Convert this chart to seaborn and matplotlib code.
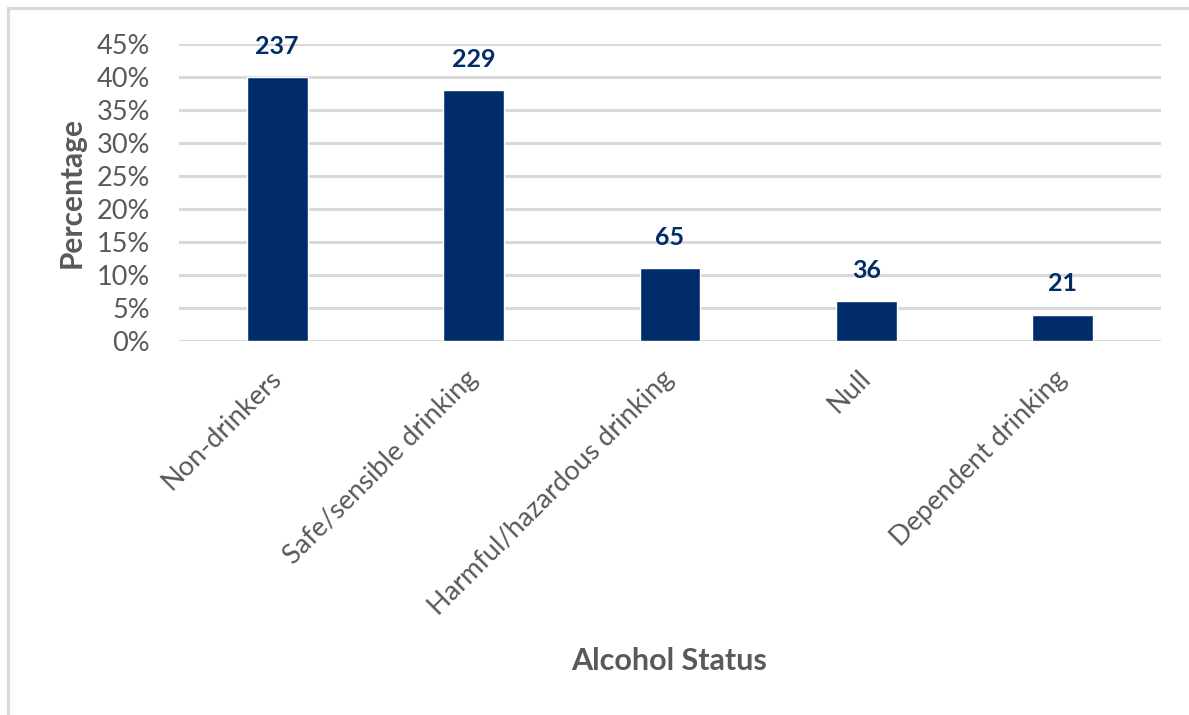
import matplotlib
matplotlib.use("Agg")
import matplotlib.pyplot as plt
import seaborn as sns
import pandas as pd
from matplotlib.patches import Rectangle
from matplotlib.ticker import PercentFormatter, MultipleLocator

categories = ["Non-drinkers", "Safe/sensible drinking", "Harmful/hazardous drinking",
              "Null", "Dependent drinking"]
percentages = [40, 38, 11, 6, 4]
counts = [237, 229, 65, 36, 21]

sns.set_theme(style="white")
plt.rcParams["font.family"] = ["Lato", "DejaVu Sans"]

bar_color = "#002D6A"
text_gray = "#595959"
grid_gray = "#D9D9D9"

df = pd.DataFrame({"status": categories, "pct": percentages, "n": counts})

fig = plt.figure(figsize=(11.89, 7.15), dpi=100)
ax = fig.add_axes([179 / 1189, 1 - 341 / 715, (1161 - 179) / 1189, (341 - 44) / 715])

sns.barplot(data=df, x="status", y="pct", color=bar_color, width=0.31,
            saturation=1, ax=ax, zorder=3)

ax.set_ylim(0, 45)
ax.set_xlim(-0.5, len(categories) - 0.5)
ax.yaxis.set_major_locator(MultipleLocator(5))
ax.yaxis.set_major_formatter(PercentFormatter(decimals=0))
ax.grid(axis="y", color=grid_gray, linewidth=2.2, zorder=0)
ax.set_axisbelow(True)
for s in ax.spines.values():
    s.set_visible(False)

ax.tick_params(axis="y", length=0, pad=21, labelsize=19.5, labelcolor=text_gray)
ax.tick_params(axis="x", length=0, pad=24, labelsize=19.5, labelcolor=text_gray)
plt.setp(ax.get_xticklabels(), rotation=45, ha="right", va="center",
         rotation_mode="anchor")

for i, (p, n) in enumerate(zip(percentages, counts)):
    ax.annotate(f"{n}", xy=(i, p), xytext=(0, 14), textcoords="offset points",
                ha="center", va="bottom", fontsize=18, fontweight="bold",
                color=bar_color)

ax.set_ylabel("Percentage", fontsize=21.5, fontweight="bold", color=text_gray,
              va="center")
ax.yaxis.set_label_coords((72 - 179) / (1161 - 179), 0.5)
ax.set_xlabel("")
fig.text(669 / 1189, 1 - 661 / 715, "Alcohol Status", ha="center", va="center",
         fontsize=22, fontweight="bold", color=text_gray)

# chart frame
fig.patches.append(Rectangle((8 / 1189, -0.05), 1.2, 1 - 8 / 715 + 0.05,
                             transform=fig.transFigure, fill=False,
                             edgecolor=grid_gray, linewidth=2.2))

fig.savefig("out.png", dpi=100, facecolor="white")
